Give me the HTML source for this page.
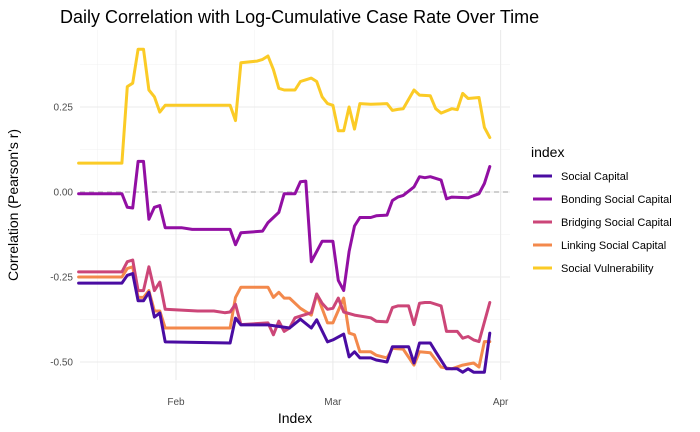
<!DOCTYPE html>
<html><head><meta charset="utf-8"><style>
body{margin:0;background:#fff;}
svg{display:block;font-family:"Liberation Sans",sans-serif;}
</style></head><body>
<svg id="chart" width="700" height="432" viewBox="0 0 700 432">
<text x="60" y="23" font-size="18" fill="#000">Daily Correlation with Log-Cumulative Case Rate Over Time</text>
<g id="grid"></g>
<g id="yaxis"></g>
<g id="xaxis"></g>
<g id="lines"></g>
<text x="0" y="0" transform="translate(18,205) rotate(-90)" text-anchor="middle" font-size="14" fill="#000">Correlation (Pearson's r)</text>
<text x="295" y="423" text-anchor="middle" font-size="14" fill="#000">Index</text>
<g id="legend">
<text x="531" y="157" font-size="14" fill="#000">index</text>
</g>
</svg>
<script>
// days are counted from Jan 1 (Jan 1 = 0, Feb 1 = 31, Mar 1 = 60, Apr 1 = 91)
const seriesNames = ["Social Capital","Bonding Social Capital","Bridging Social Capital","Linking Social Capital","Social Vulnerability"];
const seriesColors = ["#4a0ca2","#920fa3","#cc4678","#f3894c","#fbcb26"];
const xTickDays = [31,60,91];
const xTickLabels = ["Feb","Mar","Apr"];
const xMinorDays = [16.5,45.5,75.5];
const yTicks = [0.25,0,-0.25,-0.5];
const yTickLabels = ["0.25","0.00","-0.25","-0.50"];
const yMinor = [0.375,0.125,-0.125,-0.375];

const socialDays = [13,21,22,23,24,25,26,27,28,29,41,42,43,48,52,54,56,57,59,60,62,63,64,65,67,68,70,71,74,75,76,78,79,81,83,84,85,86,88,89];
const socialVals = [-.268,-.268,-.245,-.24,-.32,-.32,-.295,-.368,-.356,-.441,-.444,-.371,-.391,-.391,-.4,-.374,-.4,-.376,-.441,-.435,-.418,-.485,-.47,-.488,-.488,-.494,-.5,-.455,-.455,-.503,-.444,-.444,-.47,-.52,-.52,-.53,-.52,-.53,-.53,-.415];
const bondingDays = [13,21,22,23,24,25,26,27,28,29,32,34,41,42,43,47,48,50,51,53,54,55,56,58,60,61,62,63,64,65,67,68,70,71,72,73,75,76,77,78,80,81,82,85,87,88,89];
const bondingVals = [-.005,-.005,-.045,-.047,.09,.09,-.08,-.045,-.04,-.105,-.105,-.11,-.11,-.155,-.12,-.115,-.09,-.06,-.005,-.005,.03,.032,-.205,-.145,-.145,-.26,-.29,-.175,-.1,-.075,-.075,-.07,-.068,-.025,-.015,-.01,.015,.045,.042,.045,.035,-.02,-.015,-.017,-.005,.025,.075];
const bridgingDays = [13,21,22,23,24,25,26,27,28,29,35,38,40,41,42,43,48,49,50,51,52,53,54,56,57,58,59,60,61,62,64,67,68,70,71,72,74,75,76,77,78,80,81,83,84,85,86,87,89];
const bridgingVals = [-.235,-.235,-.205,-.2,-.29,-.29,-.22,-.29,-.265,-.345,-.35,-.35,-.355,-.353,-.33,-.39,-.385,-.42,-.38,-.41,-.4,-.37,-.365,-.355,-.3,-.327,-.345,-.342,-.312,-.353,-.362,-.37,-.38,-.382,-.34,-.335,-.335,-.39,-.327,-.325,-.325,-.335,-.41,-.41,-.43,-.425,-.435,-.44,-.325];
const linkingDays = [13,21,22,23,24,25,26,27,28,29,41,42,43,48,49,50,51,52,54,56,57,59,60,62,63,64,65,67,68,70,71,73,75,76,78,80,82,84,86,87,88,89];
const linkingVals = [-.25,-.25,-.225,-.22,-.31,-.31,-.29,-.35,-.35,-.4,-.4,-.31,-.28,-.28,-.31,-.295,-.312,-.312,-.342,-.362,-.3,-.385,-.385,-.312,-.415,-.42,-.47,-.47,-.48,-.488,-.46,-.462,-.509,-.47,-.473,-.515,-.52,-.509,-.503,-.515,-.44,-.44];
const vulnDays = [13,21,22,23,24,25,26,27,28,29,41,42,43,46,47,48,49,50,51,53,54,55,56,57,58,59,60,61,62,63,64,65,67,70,71,72,73,75,76,78,79,80,82,83,84,85,87,88,89];
const vulnVals = [.085,.085,.31,.32,.42,.42,.30,.28,.235,.255,.255,.21,.38,.385,.39,.40,.36,.305,.30,.30,.325,.33,.335,.325,.28,.26,.255,.18,.18,.25,.185,.26,.258,.26,.24,.243,.245,.30,.285,.283,.245,.232,.245,.242,.29,.275,.278,.19,.16];

const allDays = [socialDays,bondingDays,bridgingDays,linkingDays,vulnDays];
const allVals = [socialVals,bondingVals,bridgingVals,linkingVals,vulnVals];

const NS = "http://www.w3.org/2000/svg";
const P = {l:80, r:510, t:30, b:380};
const xS = d => 176 + (d - 31) * 5.41;
const yS = v => 192 - v * 340;
function mk(tag, attrs, parent){const e=document.createElementNS(NS,tag);for(const k in attrs)e.setAttribute(k,attrs[k]);parent.appendChild(e);return e;}

const grid = document.getElementById('grid');
yMinor.forEach(v=>{const l=mk('line',{x1:P.l,x2:P.r,y1:yS(v),y2:yS(v),stroke:'#f2f2f2','stroke-width':0.6},grid);

});
xMinorDays.forEach(d=>{const l=mk('line',{x1:xS(d),x2:xS(d),y1:P.t,y2:P.b,stroke:'#f2f2f2','stroke-width':0.6},grid);

});
yTicks.forEach(v=>{const l=mk('line',{x1:P.l,x2:P.r,y1:yS(v),y2:yS(v),stroke:'#ebebeb','stroke-width':1.1},grid);

});
xTickDays.forEach(d=>{const l=mk('line',{x1:xS(d),x2:xS(d),y1:P.t,y2:P.b,stroke:'#ebebeb','stroke-width':1.1},grid);

});
const zl = mk('line',{x1:P.l,x2:P.r,y1:yS(0),y2:yS(0),stroke:'#b3b3b3','stroke-width':1.2,'stroke-dasharray':'5,4'},grid);



const ya = document.getElementById('yaxis');
yTicks.forEach((v,i)=>{const t=mk('text',{x:73,y:yS(v)+3.5,'text-anchor':'end','font-size':10,fill:'#4d4d4d'},ya);t.textContent=yTickLabels[i];

});
const xa = document.getElementById('xaxis');
xTickDays.forEach((d,i)=>{const t=mk('text',{x:xS(d),y:405,'text-anchor':'middle','font-size':10,fill:'#4d4d4d'},xa);t.textContent=xTickLabels[i];

});

const lines = document.getElementById('lines');
const order = [4,3,2,1,0];
order.forEach(i=>{
  const pts = allDays[i].map((d,j)=>xS(d).toFixed(1)+','+yS(allVals[i][j]).toFixed(1)).join(' ');
  const pl = mk('polyline',{points:pts,fill:'none',stroke:seriesColors[i],'stroke-width':3,'stroke-linejoin':'round','stroke-linecap':'round'},lines);
  
  
});

const lg = document.getElementById('legend');
const legY = [176,199,222,245,268];
seriesNames.forEach((n,i)=>{
  const g = mk('g',{},lg);
  
  
  mk('line',{x1:533,x2:552,y1:legY[i],y2:legY[i],stroke:seriesColors[i],'stroke-width':3},g);
  const t = mk('text',{x:561,y:legY[i]+4,'font-size':11,fill:'#000'},g);
  t.textContent = n;
});
</script>
</body></html>
